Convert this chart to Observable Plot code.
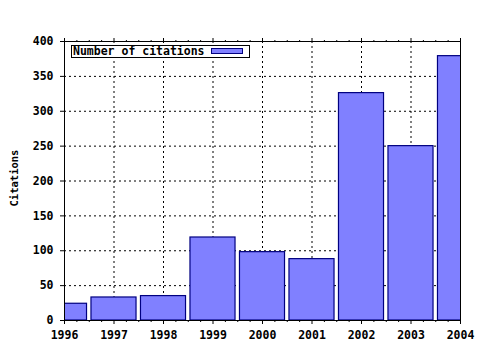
<!DOCTYPE html>
<html><head><meta charset="utf-8">
<script src="https://cdn.jsdelivr.net/npm/d3@7"></script>
<script src="https://cdn.jsdelivr.net/npm/@observablehq/plot@0.6"></script>
<style>
body{margin:0;background:#fff;}
#wrap{position:relative;width:480px;height:350px;font-family:"DejaVu Sans Mono",monospace;font-weight:bold;}
#legend{position:absolute;left:71px;top:45px;width:179px;height:13px;box-sizing:border-box;border:1px solid #000;background:#fff;font-size:11.5px;line-height:11px;color:#000;}
#legend span.t{position:absolute;left:1px;top:0px;white-space:nowrap;}
#legend span.s{position:absolute;left:139px;top:2px;width:32px;height:6px;box-sizing:border-box;background:#8080ff;border:1px solid #000080;}
</style></head>
<body><div id="wrap"></div>
<script>
const years = [1996,1997,1998,1999,2000,2001,2002,2003,2004];
const citations = [24,33,35,119,98,88,326,250,379];
const yTicks = [0,50,100,150,200,250,300,350,400];
const seriesName = "Number of citations";
const yTitle = "Citations";
const minorX = d3.range(1996, 2004.001, 0.25).filter(v => v % 1 !== 0);
const data = years.map((year, i) => ({year, value: citations[i]}));
const half = 0.455;
const font = "DejaVu Sans Mono";

const chart = Plot.plot({
  width: 480, height: 350,
  marginLeft: 64, marginRight: 20, marginTop: 41, marginBottom: 30,
  style: {fontFamily: font, fontWeight: "bold", fontSize: "11.5px", background: "#fff", color: "#000"},
  x: {type: "linear", domain: [1996, 2004]},
  y: {domain: [0, 400]},
  marks: [
    Plot.ruleX(years, {x: d => d, stroke: "#000", strokeDasharray: "2,3", strokeWidth: 1}),
    Plot.ruleY(yTicks, {y: d => d, stroke: "#000", strokeDasharray: "2,3", strokeWidth: 1}),
    Plot.rectY(data, {x1: d => d.year - half, x2: d => d.year + half, y: "value", fill: "#8080ff", stroke: "#000080", strokeWidth: 1.2, clip: true}),
    Plot.frame({stroke: "#000", strokeWidth: 1}),
    Plot.axisX(years, {anchor: "bottom", tickSize: 4, tickPadding: 6, tickFormat: d => String(d), label: null, fontSize: 11.5}),
    Plot.axisX(minorX, {anchor: "bottom", tickSize: 2, tickFormat: () => "", label: null}),
    Plot.axisX(years, {anchor: "top", tickSize: 4, tickFormat: () => "", label: null}),
    Plot.axisX(minorX, {anchor: "top", tickSize: 2, tickFormat: () => "", label: null}),
    Plot.axisY(yTicks, {anchor: "left", tickSize: 4, tickPadding: 7, label: null, fontSize: 11.5}),
    Plot.text([yTitle], {frameAnchor: "left", rotate: -90, dx: -49.5, dy: -3, textAnchor: "middle", fontSize: 10.5, fontWeight: "bold", fontFamily: font, fill: "#000"})
  ]
});
const wrap = document.getElementById("wrap");
wrap.appendChild(chart);
const lg = document.createElement("div");
lg.id = "legend";
lg.innerHTML = `<span class="t"></span><span class="s"></span>`;
lg.querySelector(".t").textContent = seriesName;
wrap.appendChild(lg);
</script>
</body></html>
